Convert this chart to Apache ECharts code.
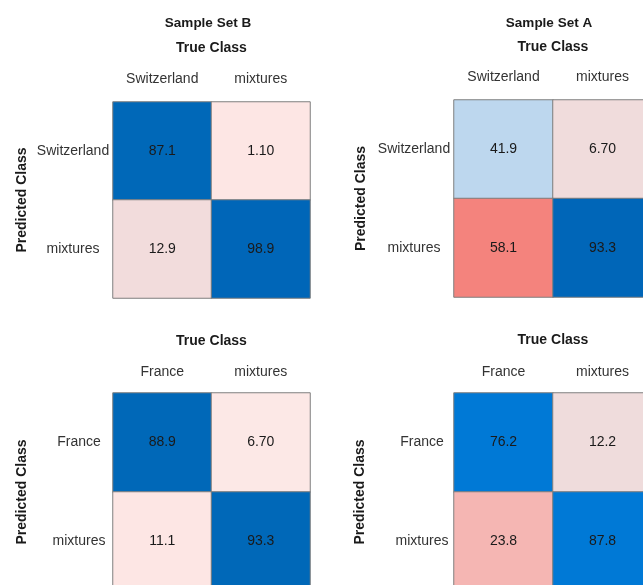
<!DOCTYPE html>
<html>
<head>
<meta charset="utf-8">
<script src="https://cdn.jsdelivr.net/npm/echarts@6/dist/echarts.min.js"></script>
<style>
  html, body { margin: 0; padding: 0; background: #ffffff; }
  #chart { width: 643px; height: 585px; }
</style>
</head>
<body>
<div id="chart"></div>
<script>
// Class labels for each confusion matrix
const classesSwiss = ['Switzerland', 'mixtures'];
const classesFrance = ['France', 'mixtures'];

// Row = predicted class, column = true class (percent)
const setBSwiss = [[87.1, 1.10], [12.9, 98.9]];
const setASwiss = [[41.9, 6.70], [58.1, 93.3]];
const setBFrance = [[88.9, 6.70], [11.1, 93.3]];
const setAFrance = [[76.2, 12.2], [23.8, 87.8]];

// Panel titles
const titleB = 'Sample Set B';
const titleA = 'Sample Set A';
const xAxisTitle = 'True Class';
const yAxisTitle = 'Predicted Class';

// Cell shading, per panel, same layout as the value matrices
const shades = {
  bSwiss:  [['#0068b8', '#fde6e4'], ['#f2dcdc', '#0066b8']],
  aSwiss:  [['#bdd7ee', '#f0dcdc'], ['#f4837d', '#0066b8']],
  bFrance: [['#0068b8', '#fce8e6'], ['#fde6e4', '#0068b8']],
  aFrance: [['#0079d6', '#efdcdc'], ['#f5b6b3', '#0079d6']]
};

const FONT = '"Liberation Sans", Arial, Helvetica, sans-serif';

const panels = [
  { values: setBSwiss,  classes: classesSwiss,  shade: shades.bSwiss,
    box: { left: 113, top: 102, width: 197, height: 196 }, xm: 16, ym: 40, xg: 47, yg: 84 },
  { values: setASwiss,  classes: classesSwiss,  shade: shades.aSwiss,
    box: { left: 454, top: 100, width: 198, height: 197 }, xm: 16, ym: 40, xg: 46, yg: 86 },
  { values: setBFrance, classes: classesFrance, shade: shades.bFrance,
    box: { left: 113, top: 393, width: 197, height: 198 }, xm: 14, ym: 34, xg: 45, yg: 84 },
  { values: setAFrance, classes: classesFrance, shade: shades.aFrance,
    box: { left: 454, top: 393, width: 198, height: 198 }, xm: 14, ym: 32, xg: 46, yg: 87 }
];

const grid = [], xAxis = [], yAxis = [], series = [];

panels.forEach((p, i) => {
  grid.push(Object.assign({ containLabel: false, outerBoundsMode: 'none' }, p.box));
  xAxis.push({
    type: 'category', gridIndex: i, position: 'top', data: p.classes,
    name: xAxisTitle, nameLocation: 'middle', nameGap: p.xg,
    nameTextStyle: { fontFamily: FONT, fontSize: 14, fontWeight: 'bold', color: '#1a1a1a' },
    axisLine: { show: false }, axisTick: { show: false }, splitLine: { show: false },
    axisLabel: { fontFamily: FONT, fontSize: 14, color: '#333333', margin: p.xm }
  });
  yAxis.push({
    type: 'category', gridIndex: i, inverse: true, data: p.classes,
    name: yAxisTitle, nameLocation: 'middle', nameGap: p.yg, nameRotate: 90,
    nameTextStyle: { fontFamily: FONT, fontSize: 14, fontWeight: 'bold', color: '#1a1a1a' },
    axisLine: { show: false }, axisTick: { show: false }, splitLine: { show: false },
    axisLabel: { fontFamily: FONT, fontSize: 14, color: '#333333', margin: p.ym, align: 'center' }
  });
  const data = [];
  p.values.forEach((row, r) => {
    row.forEach((v, c) => {
      data.push({ value: [c, r, v], itemStyle: { color: p.shade[r][c] } });
    });
  });
  series.push({
    type: 'heatmap', xAxisIndex: i, yAxisIndex: i, data: data,
    itemStyle: { borderColor: '#7f7f7f', borderWidth: 1 },
    label: {
      show: true, fontFamily: FONT, fontSize: 14, color: '#1a1a1a',
      formatter: (d) => d.value[2].toPrecision(3)
    },
    emphasis: { disabled: true }
  });
});

const chart = echarts.init(document.getElementById('chart'), null, { renderer: 'canvas' });
chart.setOption({
  backgroundColor: '#ffffff',
  animation: false,
  grid: grid,
  xAxis: xAxis,
  yAxis: yAxis,
  series: series,
  graphic: [
    { type: 'text', x: 208, y: 23, style: { text: titleB, font: 'bold 13.5px ' + FONT, fill: '#1a1a1a', textAlign: 'center', textVerticalAlign: 'middle' } },
    { type: 'text', x: 549, y: 23, style: { text: titleA, font: 'bold 13.5px ' + FONT, fill: '#1a1a1a', textAlign: 'center', textVerticalAlign: 'middle' } }
  ]
});
</script>
</body>
</html>
